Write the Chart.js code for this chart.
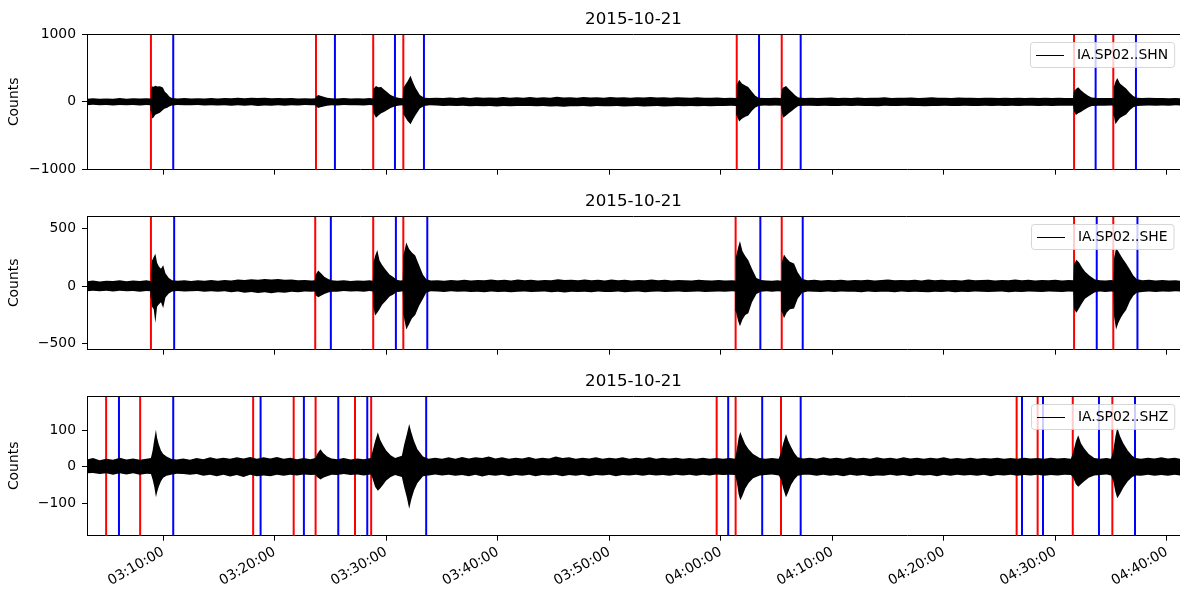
<!DOCTYPE html>
<html>
<head>
<meta charset="utf-8">
<title>IA.SP02 picks 2015-10-21</title>
<script src="https://cdn.jsdelivr.net/npm/chart.js@4.4.1/dist/chart.umd.min.js"></script>
<style>
  body { margin: 0; background: #fff; }
  #wrap { position: relative; width: 1180px; height: 595px; overflow: hidden; background: #fff; }
  #wrap canvas { position: absolute; left: 0; }
</style>
</head>
<body>
<div id="wrap">
  <canvas id="shn" width="1180" height="180" style="top:4px"></canvas>
  <canvas id="she" width="1180" height="178" style="top:186px"></canvas>
  <canvas id="shz" width="1180" height="229" style="top:366px"></canvas>
</div>
<script>
// time window and tick labels
const dayLabel = '2015-10-21';
const xStart = '03:03:10';
const xEnd = '04:41:11';
const tickLabels = ['03:10:00', '03:20:00', '03:30:00', '03:40:00', '03:50:00',
                    '04:00:00', '04:10:00', '04:20:00', '04:30:00', '04:40:00'];

// trace envelopes: [minutes after 03:00, upper, lower] in counts
const shnEnvelope = [
  [3.16,46,50],[3.7,52,44],[4.3,44,50],[4.9,50,46],[5.5,47,53],[6.1,55,46],[6.7,46,50],[7.3,52,47],[7.9,48,54],[8.5,54,48],[8.85,48,50],
  [8.9,160,130],[9.0,233,200],[9.08,220,243],[9.3,236,190],[9.5,225,175],[9.7,230,160],[9.97,210,120],[10.15,150,100],[10.33,124,90],[10.55,80,70],[10.78,56,54],
  [11.3,50,48],[11.9,55,52],[12.5,48,50],[13.1,54,47],[13.7,50,55],[14.3,57,50],[14.9,50,54],[15.5,56,49],[16.1,52,58],[16.7,60,50],[17.3,53,58],[17.9,62,52],[18.5,55,60],[19.1,60,54],[19.7,54,57],[20.3,58,50],[20.9,52,56],[21.5,56,50],[22.1,50,54],[22.7,54,48],[23.3,48,52],[23.65,52,50],
  [23.72,80,70],[23.9,100,90],[24.1,90,80],[24.4,75,68],[24.7,62,58],[25.1,54,52],
  [25.6,50,53],[26.2,55,48],[26.8,48,52],[27.4,53,50],[28.0,50,55],[28.5,55,48],[28.8,50,52],
  [28.85,190,160],[29.08,233,233],[29.3,215,200],[29.55,220,170],[29.8,180,150],[30.1,140,120],[30.4,100,90],[30.8,70,65],[31.2,55,54],[31.48,52,50],
  [31.53,200,180],[31.68,243,220],[31.9,300,280],[32.18,386,330],[32.4,290,260],[32.65,200,190],[33.02,100,100],[33.4,62,60],
  [33.9,56,52],[34.5,60,55],[35.1,55,62],[35.7,64,56],[36.3,58,62],[36.9,66,58],[37.5,58,64],[38.1,68,60],[38.7,60,66],[39.3,65,62],[39.9,62,68],[40.5,70,60],[41.1,60,66],[41.7,66,62],[42.3,62,60],[42.9,70,62],[43.5,60,66],[44.1,68,60],[44.7,62,70],[45.3,75,64],[45.9,64,72],[46.5,68,66],[47.1,62,64],[47.7,72,62],[48.3,64,68],[48.9,68,62],[49.5,62,66],[50.1,70,64],[50.7,64,62],[51.3,68,70],[51.9,62,64],[52.5,66,60],[53.1,64,68],[53.7,72,64],[54.3,64,62],[54.9,68,68],[55.5,60,64],[56.1,66,60],[56.7,64,66],[57.3,60,62],[57.9,66,64],[58.5,62,60],[59.1,60,64],[59.7,64,60],[60.3,58,62],[60.9,62,56],[61.38,58,60],
  [61.43,250,200],[61.65,324,290],[61.9,270,250],[62.2,240,220],[62.47,218,200],[62.8,150,130],[63.1,90,85],[63.4,62,60],
  [63.9,58,55],[64.4,55,58],[64.9,60,54],[65.4,55,58],
  [65.48,180,160],[65.6,210,233],[65.86,233,200],[66.1,190,170],[66.4,140,130],[66.7,95,90],[66.96,65,62],
  [67.5,58,56],[68.1,62,58],[68.7,56,62],[69.3,60,56],[69.9,64,60],[70.5,58,62],[71.1,62,58],[71.7,58,60],[72.3,64,58],[72.9,58,62],[73.5,62,60],[74.1,60,64],[74.7,66,58],[75.3,58,62],[75.9,62,60],[76.5,60,58],[77.1,64,62],[77.7,58,60],[78.3,62,64],[78.9,66,60],[79.5,60,62],[80.1,62,58],[80.7,58,62],[81.3,64,60],[81.9,60,56],[82.5,62,62],[83.1,58,60],[83.7,62,58],[84.3,60,62],[84.9,56,58],[85.5,62,60],[86.1,58,56],[86.7,60,62],[87.3,56,58],[87.9,60,56],[88.5,58,60],[89.1,62,56],[89.7,56,60],[90.3,60,58],[90.9,56,56],[91.6,58,56],
  [91.68,160,140],[91.85,190,195],[92.06,214,170],[92.3,170,150],[92.6,130,115],[92.95,90,85],[93.26,64,62],
  [93.8,58,56],[94.4,56,58],[95.0,58,54],[95.18,55,56],
  [95.25,220,200],[95.4,300,329],[95.56,350,290],[95.8,270,240],[96.1,230,210],[96.35,195,186],[96.7,130,120],[97.0,85,80],[97.3,62,60],
  [97.8,56,58],[98.4,60,55],[99.0,55,58],[99.6,58,54],[100.2,54,57],[100.8,57,52],[101.2,52,55]
];
const sheEnvelope = [
  [3.16,42,45],[3.7,48,40],[4.3,40,46],[4.9,46,42],[5.5,43,48],[6.1,50,42],[6.7,42,46],[7.3,48,43],[7.9,44,50],[8.5,50,44],[8.85,44,46],
  [8.9,120,100],[9.0,220,180],[9.15,250,200],[9.3,278,320],[9.45,200,180],[9.6,170,160],[9.8,150,140],[10.0,180,189],[10.2,110,100],[10.5,70,65],[10.8,50,48],
  [11.3,46,44],[11.9,50,48],[12.5,44,46],[13.1,50,43],[13.7,46,50],[14.3,52,46],[14.9,46,50],[15.5,52,45],[16.1,48,54],[16.7,56,48],[17.3,52,58],[17.9,58,52],[18.5,54,60],[19.1,60,54],[19.7,56,62],[20.3,60,54],[20.9,54,58],[21.5,56,50],[22.1,50,54],[22.7,52,48],[23.3,48,50],[23.6,50,48],
  [23.68,100,80],[23.9,133,97],[24.15,110,85],[24.45,80,70],[24.8,60,55],[25.1,50,50],
  [25.6,46,50],[26.2,50,44],[26.8,44,48],[27.4,48,46],[28.0,46,50],[28.5,50,44],[28.8,46,48],
  [28.85,200,180],[29.0,260,255],[29.2,311,230],[29.4,220,200],[29.65,180,160],[29.95,140,130],[30.3,100,90],[30.6,80,75],[30.95,55,52],[31.25,48,50],[31.48,50,46],
  [31.53,260,240],[31.8,375,375],[32.05,320,330],[32.3,290,280],[32.6,264,250],[32.95,180,170],[33.3,97,111],[33.6,58,56],
  [34.0,48,46],[34.6,50,48],[35.2,46,52],[35.8,52,46],[36.4,48,50],[37.0,54,48],[37.6,48,52],[38.2,52,50],[38.8,50,54],[39.4,56,48],[40.0,50,52],[40.6,54,50],[41.2,48,54],[41.8,56,50],[42.4,50,48],[43.0,54,52],[43.6,48,50],[44.2,52,48],[44.8,50,54],[45.4,58,50],[46.0,52,56],[46.6,54,50],[47.2,50,52],[47.8,56,50],[48.4,50,54],[49.0,54,48],[49.6,48,52],[50.2,56,52],[50.8,50,48],[51.4,54,54],[52.0,48,50],[52.6,52,48],[53.2,50,54],[53.8,56,50],[54.4,50,48],[55.0,54,52],[55.6,48,50],[56.2,52,48],[56.8,50,52],[57.4,48,50],[58.0,54,48],[58.6,50,52],[59.2,48,50],[59.8,52,48],[60.4,48,50],[61.0,50,46],[61.3,48,48],
  [61.36,250,220],[61.55,330,300],[61.72,389,347],[61.95,300,290],[62.2,260,250],[62.47,222,236],[62.8,150,140],[63.2,70,70],[63.6,52,50],
  [64.1,48,46],[64.6,46,50],[65.1,50,46],[65.42,46,48],
  [65.47,200,220],[65.67,272,278],[65.9,240,230],[66.2,210,200],[66.57,194,194],[66.9,120,110],[67.3,60,58],
  [67.8,50,48],[68.4,54,50],[69.0,48,52],[69.6,52,48],[70.2,50,52],[70.8,54,48],[71.4,48,50],[72.0,52,50],[72.6,50,54],[73.2,54,48],[73.8,48,52],[74.4,52,50],[75.0,56,50],[75.6,50,54],[76.2,52,48],[76.8,50,52],[77.4,54,50],[78.0,48,52],[78.6,56,54],[79.2,50,50],[79.8,54,52],[80.4,50,48],[81.0,52,54],[81.6,48,50],[82.2,56,52],[82.8,50,48],[83.4,52,50],[84.0,54,52],[84.6,48,50],[85.2,52,48],[85.8,50,54],[86.4,56,50],[87.0,50,52],[87.6,54,48],[88.2,48,50],[88.8,52,52],[89.4,50,48],[90.0,54,50],[90.6,48,52],[91.2,52,48],[91.62,50,50],
  [91.68,190,200],[91.9,228,230],[92.15,200,190],[92.4,160,150],[92.66,125,111],[93.05,90,85],[93.56,56,54],
  [94.0,50,48],[94.5,48,52],[95.0,52,48],[95.22,48,50],
  [95.27,240,260],[95.45,328,375],[95.65,300,320],[95.9,260,270],[96.1,230,240],[96.35,194,208],[96.7,140,130],[97.0,90,85],[97.3,60,58],
  [97.8,50,52],[98.4,54,48],[99.0,48,52],[99.6,52,48],[100.2,48,50],[100.8,50,46],[101.2,46,48]
];
const shzEnvelope = [
  [3.16,20,18],[3.7,24,17],[4.3,18,20],[4.9,22,18],[5.5,19,22],[6.1,25,18],[6.7,20,21],[7.3,23,18],[7.9,19,22],[8.5,22,19],[8.9,24,20],
  [9.05,45,35],[9.2,75,55],[9.35,102,84],[9.45,80,70],[9.6,62,55],[9.8,45,40],[10.0,35,30],[10.3,28,25],[10.7,22,22],
  [11.2,20,19],[11.8,23,20],[12.4,19,22],[13.0,24,20],[13.6,21,25],[14.2,26,22],[14.8,22,26],[15.4,25,22],[16.0,22,27],[16.6,26,23],[17.2,23,28],[17.8,27,22],[18.4,22,26],[19.0,26,24],[19.6,23,26],[20.2,27,22],[20.8,22,25],[21.4,25,22],[22.0,21,24],[22.6,24,21],[23.2,21,23],[23.65,24,22],
  [23.8,35,28],[24.1,48,35],[24.35,38,30],[24.7,28,26],[25.1,23,22],
  [25.6,21,23],[26.2,24,20],[26.8,20,23],[27.4,23,21],[28.0,21,24],[28.6,24,21],
  [28.75,40,30],[29.0,70,55],[29.25,95,66],[29.45,75,60],[29.7,60,50],[30.0,45,38],[30.4,32,28],[30.8,24,23],
  [31.4,30,28],[31.6,60,55],[31.85,90,85],[32.06,118,116],[32.25,95,90],[32.5,70,65],[32.8,48,45],[33.3,28,26],
  [33.8,22,24],[34.4,25,21],[35.0,22,24],[35.6,26,22],[36.2,22,25],[36.8,27,23],[37.4,23,26],[38.0,26,22],[38.6,24,27],[39.2,28,23],[39.8,23,25],[40.4,26,22],[41.0,22,26],[41.6,25,23],[42.2,23,25],[42.8,27,22],[43.4,22,26],[44.0,25,23],[44.6,23,24],[45.2,28,22],[45.8,24,26],[46.4,26,23],[47.0,22,25],[47.6,25,22],[48.2,23,26],[48.8,26,23],[49.4,22,24],[50.0,25,22],[50.6,23,26],[51.2,26,23],[51.8,22,24],[52.4,25,22],[53.0,23,25],[53.6,26,22],[54.2,22,24],[54.8,25,23],[55.4,23,25],[56.0,25,22],[56.6,22,24],[57.2,24,22],[57.8,22,25],[58.4,25,22],[59.0,22,24],[59.6,24,21],[60.2,22,23],[60.8,24,22],[61.3,22,23],
  [61.45,50,45],[61.6,80,75],[61.75,96,92],[61.95,80,80],[62.2,62,60],[62.5,48,45],[62.9,35,32],[63.5,24,24],
  [64.0,22,23],[64.6,24,21],[65.2,22,24],
  [65.4,40,35],[65.6,65,60],[65.85,90,84],[66.05,72,70],[66.3,55,50],[66.6,38,35],[66.9,26,25],
  [67.4,23,22],[68.0,25,22],[68.6,22,25],[69.2,26,22],[69.8,23,25],[70.4,25,23],[71.0,22,26],[71.6,26,22],[72.2,23,25],[72.8,25,23],[73.4,22,26],[74.0,26,24],[74.6,23,25],[75.2,25,22],[75.8,22,25],[76.4,26,23],[77.0,23,26],[77.6,25,22],[78.2,22,24],[78.8,25,23],[79.4,23,26],[80.0,26,22],[80.6,22,25],[81.2,24,22],[81.8,22,24],[82.4,25,23],[83.0,22,25],[83.6,24,22],[84.2,23,26],[84.8,25,23],[85.4,22,24],[86.0,24,22],[86.6,22,25],[87.2,25,23],[87.8,23,24],[88.4,24,22],[89.0,22,25],[89.6,25,23],[90.2,23,24],[90.8,24,22],[91.4,22,23],
  [91.6,40,30],[91.85,70,48],[92.06,87,55],[92.3,65,48],[92.6,50,40],[93.0,35,30],[93.5,24,24],
  [94.0,22,23],[94.6,24,21],[95.0,22,24],
  [95.2,45,40],[95.4,85,70],[95.56,108,87],[95.8,85,75],[96.1,65,58],[96.5,45,40],[96.9,30,28],[97.2,24,24],
  [97.7,22,25],[98.3,25,22],[98.9,23,25],[99.5,26,23],[100.1,23,25],[100.7,25,22],[101.2,22,24]
];

// phase picks (red / blue vertical lines)
const shnRedPicks = ['03:08:54', '03:23:42', '03:28:50', '03:31:32', '04:01:26', '04:05:28', '04:31:41', '04:35:12'];
const shnBluePicks = ['03:10:54', '03:25:24', '03:30:47', '03:33:23', '04:03:26', '04:07:10', '04:33:37', '04:37:14'];
const sheRedPicks = ['03:08:54', '03:23:38', '03:28:50', '03:31:32', '04:01:20', '04:05:28', '04:31:41', '04:35:12'];
const sheBluePicks = ['03:10:59', '03:25:02', '03:30:52', '03:33:41', '04:03:33', '04:07:21', '04:33:43', '04:37:22'];
const shzRedPicks = ['03:04:53', '03:07:56', '03:18:04', '03:21:42', '03:23:40', '03:27:12', '03:28:39',
                     '03:59:38', '04:01:20', '04:05:24', '04:26:32', '04:28:25', '04:31:34', '04:35:07'];
const shzBluePicks = ['03:06:02', '03:10:54', '03:18:44', '03:22:37', '03:25:42', '03:28:18', '03:33:35',
                      '04:00:40', '04:03:43', '04:07:10', '04:27:01', '04:28:54', '04:33:55', '04:37:09'];

// y ticks per channel
const shnYTicks = [-1000, 0, 1000];
const sheYTicks = [-500, 0, 500];
const shzYTicks = [-100, 0, 100];

Chart.defaults.font.family = '"DejaVu Sans", sans-serif';

// minutes after 03:00:00
function toMin(t) {
  const [h, m, s] = t.split(':').map(Number);
  return h * 60 + m + s / 60 - 180;
}

function fmtCount(v) {
  return v < 0 ? '\u2212' + Math.abs(v) : String(v);
}

const pickLines = {
  id: 'pickLines',
  beforeDatasetsDraw(chart, args, opts) {
    const { ctx, chartArea: a, scales: { x } } = chart;
    ctx.save();
    ctx.lineWidth = 2;
    [[opts.red, '#ff0000'], [opts.blue, '#0000ff']].forEach(([list, color]) => {
      ctx.strokeStyle = color;
      list.forEach(t => {
        const px = x.getPixelForValue(toMin(t));
        ctx.beginPath();
        ctx.moveTo(px, a.top);
        ctx.lineTo(px, a.bottom);
        ctx.stroke();
      });
    });
    ctx.restore();
  }
};

// top spine + matplotlib style legend box in the upper right
const frameLegend = {
  id: 'frameLegend',
  afterDraw(chart, args, opts) {
    const { ctx, chartArea: a } = chart;
    ctx.save();
    ctx.strokeStyle = '#000';
    ctx.lineWidth = 1;
    ctx.beginPath();
    ctx.moveTo(a.left, Math.round(a.top) + 0.5);
    ctx.lineTo(a.right, Math.round(a.top) + 0.5);
    ctx.stroke();

    ctx.font = '13.9px "DejaVu Sans"';
    const tw = ctx.measureText(opts.text).width;
    const w = tw + 53, h = 25;
    const x0 = Math.round(a.right - 6 - w), y0 = Math.round(a.top + 7.5);
    ctx.beginPath();
    ctx.roundRect(x0 + 0.5, y0 + 0.5, w, h, 3);
    ctx.fillStyle = 'rgba(255,255,255,0.8)';
    ctx.fill();
    ctx.strokeStyle = 'rgba(204,204,204,0.8)';
    ctx.stroke();
    ctx.strokeStyle = '#000';
    ctx.beginPath();
    ctx.moveTo(x0 + 6, y0 + 13.5);
    ctx.lineTo(x0 + 34, y0 + 13.5);
    ctx.stroke();
    ctx.fillStyle = '#000';
    ctx.textAlign = 'left';
    ctx.textBaseline = 'middle';
    ctx.fillText(opts.text, x0 + 47, y0 + 13.5);
    ctx.restore();
  }
};

function makePanel(id, env, label, red, blue, yMin, yMax, yTicks, xHeight, showX) {
  new Chart(document.getElementById(id), {
    type: 'line',
    data: {
      datasets: [
        {
          label: label,
          data: env.map(p => ({ x: p[0], y: p[1] })),
          borderColor: '#000',
          backgroundColor: '#000',
          borderWidth: 0,
          pointRadius: 0,
          tension: 0,
          fill: '+1'
        },
        {
          label: label + ' low',
          data: env.map(p => ({ x: p[0], y: -p[2] })),
          borderColor: '#000',
          borderWidth: 0,
          pointRadius: 0,
          tension: 0,
          fill: false
        }
      ]
    },
    options: {
      responsive: false,
      animation: false,
      events: [],
      layout: { padding: 0 },
      plugins: {
        legend: { display: false },
        tooltip: { enabled: false },
        title: {
          display: true,
          text: dayLabel,
          fullSize: false,
          color: '#000',
          font: { size: 16.67, weight: 'normal', lineHeight: 1.2 },
          padding: { top: 6, bottom: 4 }
        },
        pickLines: { red: red, blue: blue },
        frameLegend: { text: label }
      },
      scales: {
        x: {
          type: 'linear',
          min: toMin(xStart),
          max: toMin(xEnd),
          afterBuildTicks: s => { s.ticks = tickLabels.map(l => ({ value: toMin(l) })); },
          afterFit: s => { s.height = xHeight; },
          ticks: {
            display: showX,
            autoSkip: false,
            color: '#000',
            font: { size: 13.9 },
            minRotation: 30,
            maxRotation: 30,
            padding: 3,
            callback: (v, i) => tickLabels[i]
          },
          grid: { drawOnChartArea: false, drawTicks: true, tickLength: 5, color: '#000', lineWidth: 1 },
          border: { display: true, color: '#000', width: 1 }
        },
        y: {
          type: 'linear',
          min: yMin,
          max: yMax,
          afterBuildTicks: s => { s.ticks = yTicks.map(v => ({ value: v })); },
          afterFit: s => { s.width = 87; },
          ticks: {
            color: '#000',
            font: { size: 13.9 },
            padding: 6,
            callback: v => fmtCount(v)
          },
          grid: { drawOnChartArea: false, drawTicks: true, tickLength: 5, color: '#000', lineWidth: 1 },
          border: { display: true, color: '#000', width: 1 },
          title: {
            display: true,
            text: 'Counts',
            color: '#000',
            font: { size: 13.9 },
            padding: { top: 5.7, bottom: 0 }
          }
        }
      }
    },
    plugins: [pickLines, frameLegend]
  });
}

makePanel('shn', shnEnvelope, 'IA.SP02..SHN', shnRedPicks, shnBluePicks, -1000, 1000, shnYTicks, 10, false);
makePanel('she', sheEnvelope, 'IA.SP02..SHE', sheRedPicks, sheBluePicks, -550, 605, sheYTicks, 10, false);
makePanel('shz', shzEnvelope, 'IA.SP02..SHZ', shzRedPicks, shzBluePicks, -190, 195, shzYTicks, 59.3, true);
</script>
</body>
</html>
